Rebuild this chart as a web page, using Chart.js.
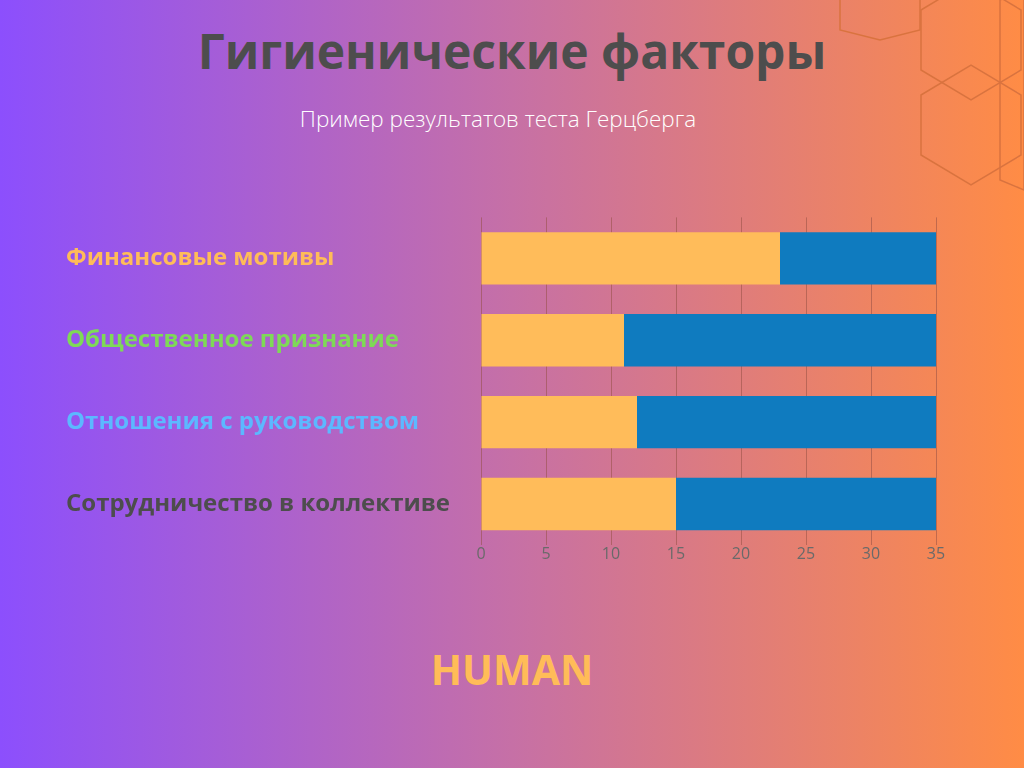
<!DOCTYPE html>
<html><head><meta charset="utf-8">
<script src="https://cdn.jsdelivr.net/npm/chart.js@4"></script>
<style>
body{margin:0;width:1024px;height:768px;overflow:hidden;background:linear-gradient(90deg,#8c4ffd 0%,#c670a6 50%,#ff8c45 100%);font-family:'Open Sans',sans-serif;position:relative}
#t{position:absolute;top:18px;left:0;width:1024px;text-align:center;font:bold 48px 'Open Sans';color:#4d4d4d}
#s{position:absolute;top:103px;left:0;width:996px;text-align:center;font:300 22.5px 'Open Sans';color:#fff}
#h{position:absolute;top:641px;left:0;width:1024px;text-align:center;font:bold 41px 'Open Sans';color:#ffbc58}
#w{position:absolute;left:0;top:200px;width:1024px;height:380px}
svg{position:absolute;left:0;top:0}
</style></head><body>
<svg width="1024" height="768">
<g fill="none" stroke="#d9733f" stroke-width="1.5">
<polygon points="880,0 920,-10 960,0 960,40 920,50 880,40" transform="translate(-40,-10)"/>
<polygon points="921,10 971,-20 1021,10 1021,70 971,100 921,70"/>
<polygon points="921,100 971,70 1021,100 1021,160 971,190 921,160" transform="translate(0,-5)"/>
<polygon points="1000,0 1024,-10 1024,190 1000,180"/>
</g></svg>
<div id="t">Гигиенические факторы</div>
<div id="s">Пример результатов теста Герцберга</div>
<div id="h">HUMAN</div>
<div id="w"><canvas id="c"></canvas></div>
<script>
const categories=["Финансовые мотивы","Общественное признание","Отношения с руководством","Сотрудничество в коллективе"];
const seriesA=[23,11,12,15];
const seriesB=[12,24,23,20];
const labelColors=["#ffbc58","#7ed957","#5cb8ff","#4d4d4d"];
new Chart(document.getElementById('c'),{type:'bar',
data:{labels:categories,datasets:[
{data:seriesA,backgroundColor:'#ffbc5a',barPercentage:0.8,categoryPercentage:0.8},
{data:seriesB,backgroundColor:'#0f7bbf',barPercentage:0.8,categoryPercentage:0.8}]},
options:{indexAxis:'y',responsive:true,maintainAspectRatio:false,animation:false,
layout:{padding:{left:66,right:88,top:13,bottom:0}},
plugins:{legend:{display:false},tooltip:{enabled:false}},
scales:{
x:{stacked:true,min:0,max:35,ticks:{stepSize:5,color:'#6a6a6a',font:{family:'Open Sans',size:16},padding:0},
grid:{color:'rgba(150,80,70,0.55)',drawTicks:false},border:{display:false},afterFit:s=>{s.height=35}},
y:{stacked:true,ticks:{crossAlign:'far',color:labelColors,font:{family:'Open Sans',size:24,weight:'bold'}},
grid:{display:false},border:{display:false},afterFit:s=>{s.width=415}}}}});
</script></body></html>
